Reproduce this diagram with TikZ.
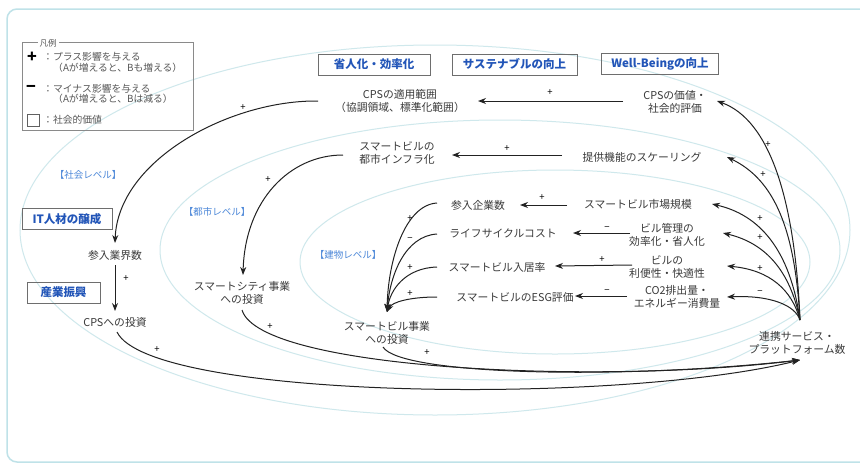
\documentclass[tikz,border=0pt]{standalone}
\usepackage{fontspec}
\setmainfont{Noto Sans CJK JP}
\usetikzlibrary{arrows.meta,calc}
\definecolor{txt}{HTML}{3A3A3A}
\definecolor{boxblue}{HTML}{2255B8}
\definecolor{lvlblue}{HTML}{4A86D8}
\definecolor{linec}{HTML}{222222}
\definecolor{ellc}{HTML}{CFE8EC}
\definecolor{framec}{HTML}{BFE2E8}
\definecolor{legc}{HTML}{8A8A8A}
\begin{document}
\begin{tikzpicture}[x=1pt,y=-1pt,
  lbl/.style={font=\fontsize{10.8}{13}\selectfont, text=txt, align=center, inner sep=1pt},
  valbox/.style={draw=legc!80!black, line width=0.9pt, text=boxblue, font=\fontsize{11.5}{13}\selectfont\bfseries, minimum height=21pt, inner sep=0pt},
  lvl/.style={text=lvlblue, font=\fontsize{9.5}{11}\selectfont},
  arr/.style={-{Stealth[length=8pt,width=6pt]}, line width=1pt, draw=linec},
  sgn/.style={font=\fontsize{9.5}{10}\selectfont, text=black, inner sep=0pt},
  ell/.style={draw=ellc, line width=1pt},
  legtxt/.style={font=\fontsize{9.8}{11}\selectfont, text=txt!85, anchor=west, inner sep=0pt}
]
\useasboundingbox (0,0) rectangle (860,464);
\fill[white] (0,0) rectangle (860,464);
% frame
\draw[framec, line width=1.5pt, rounded corners=10pt] (7,9) rectangle (880,462);
% level ellipses
\draw[ell] (435,230) ellipse [x radius=415, y radius=185];
\draw[ell] (500,250) ellipse [x radius=340, y radius=130];
\draw[ell] (555,262) ellipse [x radius=255, y radius=92];

% legend
\node[draw=legc, line width=0.8pt, minimum width=171pt, minimum height=88pt, inner sep=0pt] (leg) at (107.5,86.5) {};
\node[fill=white, font=\fontsize{8.5}{9}\selectfont, text=txt!85, inner sep=2pt] (legt) at (48,43) {凡例};
\node[font=\fontsize{16}{16}\selectfont\bfseries, text=black, inner sep=0pt] (lplus) at (32,57) {+};
\node[legtxt] (l1) at (43,57) {：プラス影響を与える};
\node[legtxt] (l2) at (53,68) {（Aが増えると、Bも増える）};
\node[font=\fontsize{16}{16}\selectfont\bfseries, text=black, inner sep=0pt] (lminus) at (31,89) {−};
\node[legtxt] (l3) at (43,89) {：マイナス影響を与える};
\node[legtxt] (l4) at (53,99) {（Aが増えると、Bは減る）};
\node[draw=legc!70!black, line width=0.8pt, minimum size=12pt, inner sep=0pt] (lsq) at (33,120) {};
\node[legtxt] (l5) at (43,120) {：社会的価値};

% value boxes
\node[valbox, minimum width=112pt] (b1) at (374,64.5) {省人化・効率化};
\node[valbox, minimum width=125pt] (b2) at (514.5,64.5) {サステナブルの向上};
\node[valbox, minimum width=117pt] (b3) at (660,64) {Well-Beingの向上};
\node[valbox, minimum width=90pt] (bit) at (67,219) {IT人材の醸成};
\node[valbox, minimum width=73pt] (bsan) at (63.5,292.5) {産業振興};

% level labels
\node[lvl] (lv1) at (88,175) {【社会レベル】};
\node[lvl] (lv2) at (217,212) {【都市レベル】};
\node[lvl] (lv3) at (348,255) {【建物レベル】};

% text nodes
\node[lbl] (cpsval) at (675,102) {CPSの価値・\\社会的評価};
\node[lbl] (cpsapp) at (400,101) {CPSの適用範囲\\（協調領域、標準化範囲）};
\node[lbl] (infra) at (397,153) {スマートビルの\\都市インフラ化};
\node[lbl] (scaling) at (642,157) {提供機能のスケーリング};
\node[lbl] (indus) at (115,255) {参入業界数};
\node[lbl] (cpsinv) at (115,322) {CPSへの投資};
\node[lbl] (city) at (242,293) {スマートシティ事業\\への投資};
\node[lbl] (firms) at (478,205) {参入企業数};
\node[lbl] (lcc) at (503,233) {ライフサイクルコスト};
\node[lbl] (occ) at (497,267) {スマートビル入居率};
\node[lbl] (esg) at (515,297) {スマートビルのESG評価};
\node[lbl] (bldinv) at (387,333) {スマートビル事業\\への投資};
\node[lbl] (market) at (638,204) {スマートビル市場規模};
\node[lbl] (mgmt) at (667,235) {ビル管理の\\効率化・省人化};
\node[lbl] (conv) at (667,267) {ビルの\\利便性・快適性};
\node[lbl] (co2) at (677,297) {CO2排出量・\\エネルギー消費量};
\node[lbl] (svc) at (797,343) {連携サービス・\\プラットフォーム数};

% straight arrows
\draw[arr] ($(cpsval)+(-52,-1)$) -- ($(cpsapp)+(78,0)$);
\draw[arr] ($(scaling)+(-80,-2)$) -- ($(infra)+(55,2)$);
\draw[arr] ($(indus)+(0,10)$) -- ($(cpsinv)+(0,-11)$);
\draw[arr] ($(market)+(-71,1)$) -- ($(firms)+(42,0)$);
\draw[arr] ($(mgmt)+(-37,-2)$) -- ($(lcc)+(70,0)$);
\draw[arr] ($(conv)+(-35,-2)$) -- ($(occ)+(58,-1)$);
\draw[arr] ($(co2)+(-50,-1)$) -- ($(esg)+(60,-1)$);

% curved arrows (left side)
\draw[arr] ($(cpsapp)+(-82,0)$) .. controls (230,100) and (118,160) .. ($(indus)+(0,-12)$);
\draw[arr] ($(infra)+(-54,2)$) .. controls (290,155) and (245,200) .. ($(city)+(1,-18)$);

% bottom arrows into svc
\draw[arr] ($(cpsinv)+(2,10)$) .. controls (150,400) and (620,405) .. ($(svc)+(3,17)$);
\draw[arr] ($(city)+(0,17)$) .. controls (260,370) and (600,385) .. ($(svc)+(3,17)$);
\draw[arr] ($(bldinv)+(-4,14)$) .. controls (400,375) and (620,380) .. ($(svc)+(3,17)$);

% fan from svc
\draw[arr] ($(svc)+(3,-23)$) .. controls (795,200) and (770,120) .. ($(cpsval)+(42,-1)$);
\draw[arr] ($(svc)+(3,-23)$) .. controls (795,230) and (775,180) .. ($(scaling)+(85,0)$);
\draw[arr] ($(svc)+(3,-23)$) .. controls (790,250) and (760,215) .. ($(market)+(74,0)$);
\draw[arr] ($(svc)+(3,-23)$) .. controls (790,270) and (765,243) .. ($(mgmt)+(56,-2)$);
\draw[arr] ($(svc)+(3,-23)$) .. controls (792,290) and (770,270) .. ($(conv)+(60,-1)$);
\draw[arr] ($(svc)+(3,-23)$) .. controls (795,305) and (770,295) .. ($(co2)+(50,0)$);

% fan into bldinv
\draw[arr] ($(firms)+(-41,-2)$) .. controls (405,205) and (388,260) .. ($(bldinv)+(0,-21)$);
\draw[arr] ($(lcc)+(-66,1)$) .. controls (405,236) and (390,275) .. ($(bldinv)+(0,-21)$);
\draw[arr] ($(occ)+(-60,0)$) .. controls (405,268) and (390,290) .. ($(bldinv)+(0,-21)$);
\draw[arr] ($(esg)+(-78,0)$) .. controls (410,297) and (392,302) .. ($(bldinv)+(0,-21)$);

% signs
\node[sgn] (s1) at (550,93) {+};
\node[sgn] (s2) at (243,108) {+};
\node[sgn] (s3) at (507,149) {+};
\node[sgn] (s4) at (268,180) {+};
\node[sgn] (s5) at (126,279) {+};
\node[sgn] (s6) at (157,350) {+};
\node[sgn] (s7) at (270,327) {+};
\node[sgn] (s8) at (427,353) {+};
\node[sgn] (s9) at (768,145) {+};
\node[sgn] (s10) at (763,175) {+};
\node[sgn] (s11) at (760,219) {+};
\node[sgn] (s12) at (760,238) {+};
\node[sgn] (s13) at (760,269) {+};
\node[sgn] (s14) at (760,293) {−};
\node[sgn] (s15) at (542,198) {+};
\node[sgn] (s16) at (607,229) {−};
\node[sgn] (s17) at (602,260) {+};
\node[sgn] (s18) at (607,292) {−};
\node[sgn] (s19) at (410,219) {+};
\node[sgn] (s20) at (410,240) {−};
\node[sgn] (s21) at (410,268) {+};
\node[sgn] (s22) at (410,294) {+};
\end{tikzpicture}
\end{document}
